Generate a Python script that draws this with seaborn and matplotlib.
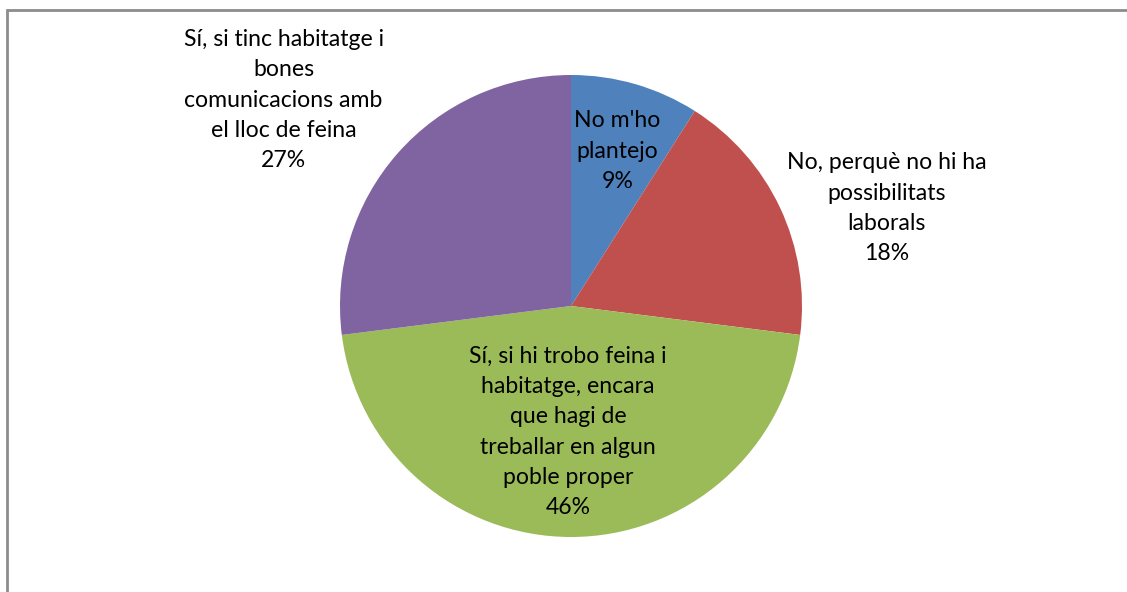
import numpy as np
import matplotlib
matplotlib.use("Agg")
import matplotlib.pyplot as plt
import seaborn as sns
from matplotlib.patches import Rectangle

# Dades (percentatges de respostes)
categories = [
    "No m'ho\nplantejo",
    "No, perquè no hi ha\npossibilitats\nlaborals",
    "Sí, si hi trobo feina i\nhabitatge, encara\nque hagi de\ntreballar en algun\npoble proper",
    "Sí, si tinc habitatge i\nbones\ncomunicacions amb\nel lloc de feina",
]
values = [9, 18, 46, 27]
colors = ["#4F81BD", "#C0504D", "#9BBB59", "#8064A2"]

# posició de cada etiqueta (radi relatiu, angle en graus)
label_pos = [(0.70, 73.4), (1.43, 17.2), (0.545, -91.4), (1.53, 144.4)]

sns.set_theme(style="white")
plt.rcParams["font.family"] = ["Lato", "DejaVu Sans"]

W, H = 1127, 592
fig = plt.figure(figsize=(W / 100, H / 100), dpi=100)
ax = fig.add_axes([0, 0, 1, 1])

wedges, _ = ax.pie(values, colors=colors, startangle=90, counterclock=False,
                   radius=1, wedgeprops=dict(linewidth=0))

total = sum(values)
for cat, v, (r, ang) in zip(categories, values, label_pos):
    pct = f"{round(100 * v / total)}%"
    x = r * np.cos(np.deg2rad(ang))
    y = r * np.sin(np.deg2rad(ang))
    ax.text(x, y, f"{cat}\n{pct}", ha="center", va="center",
            fontsize=16.6, color="black", linespacing=1.55)

# escala: 231 px per unitat de radi, centre a (571, 306)
scale = 231
cx, cy = 571, H - 306
ax.set_aspect("auto")
ax.set_xlim(-cx / scale, (W - cx) / scale)
ax.set_ylim(-cy / scale, (H - cy) / scale)
ax.axis("off")

# marc del gràfic
fig.patches.append(Rectangle((6.5 / W, -0.1), 2, (H - 10) / H + 0.1,
                             transform=fig.transFigure, fill=False,
                             edgecolor="#8c8c8c", linewidth=2))

fig.savefig("out.png", dpi=100)
